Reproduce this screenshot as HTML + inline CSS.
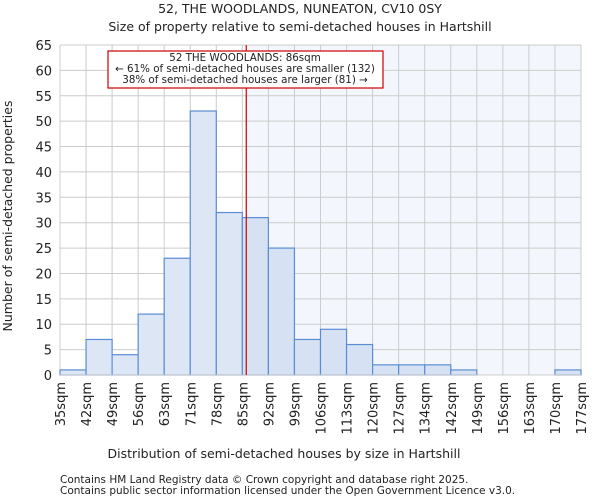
<!DOCTYPE html>
<html><head><meta charset="utf-8"><style>
body{margin:0;background:#fff;font-family:"DejaVu Sans","Liberation Sans",sans-serif;}
svg text{font-family:"DejaVu Sans","Liberation Sans",sans-serif;fill:#222;}
</style></head><body>
<svg id="c" width="600" height="500">
<text x="300" y="13" text-anchor="middle" font-size="12.5">52, THE WOODLANDS, NUNEATON, CV10 0SY</text>
<text x="300" y="31" text-anchor="middle" font-size="12.5">Size of property relative to semi-detached houses in Hartshill</text>
<g id="plot"></g>
<text x="284" y="458" text-anchor="middle" font-size="12.5">Distribution of semi-detached houses by size in Hartshill</text>
<text transform="translate(12,216) rotate(-90)" text-anchor="middle" font-size="12.5">Number of semi-detached properties</text>
<text x="60" y="483" font-size="10.5" fill="#444">Contains HM Land Registry data © Crown copyright and database right 2025.</text>
<text x="60" y="494" font-size="10.5" fill="#444">Contains public sector information licensed under the Open Government Licence v3.0.</text>
</svg>
<script>
const binLabels=["35sqm","42sqm","49sqm","56sqm","63sqm","71sqm","78sqm","85sqm","92sqm","99sqm","106sqm","113sqm","120sqm","127sqm","134sqm","142sqm","149sqm","156sqm","163sqm","170sqm","177sqm"];
const counts=[1,7,4,12,23,52,32,31,25,7,9,6,2,2,2,1,0,0,0,1];
const yTicks=[0,5,10,15,20,25,30,35,40,45,50,55,60,65];
const propertyBinPos=7.15; // 86sqm in bin units
const NS="http://www.w3.org/2000/svg";
const x0=60,x1=581,yB=375,yT=45,yMax=65;
const X=i=>x0+(x1-x0)*i/counts.length;
const Y=v=>yB-(yB-yT)*v/yMax;
const g=document.getElementById('plot');
function mk(t,a){const e=document.createElementNS(NS,t);for(const k in a)e.setAttribute(k,a[k]);g.appendChild(e);return e;}
const px=X(propertyBinPos);
let r=mk('rect',{x:px,y:yT,width:x1-px,height:yB-yT,fill:'#f3f6fd'});


yTicks.forEach(v=>{let l=mk('line',{x1:x0,x2:x1,y1:Y(v),y2:Y(v),stroke:'#ccc'});


let t=mk('text',{x:x0-8,y:Y(v)+5,'text-anchor':'end','font-size':'13'});t.textContent=v;

});
binLabels.forEach((s,i)=>{let l=mk('line',{x1:X(i),x2:X(i),y1:yT,y2:yB,stroke:'#ccc'});


let t=mk('text',{transform:`translate(${X(i)+5},382) rotate(-90)`,'text-anchor':'end','font-size':'13'});t.textContent=s;

});
counts.forEach((c,i)=>{if(c<=0)return;let b=mk('rect',{x:X(i),y:Y(c),width:X(i+1)-X(i),height:yB-Y(c),fill:i>=7?'#d6e1f3':'#dce6f4',stroke:'#5b8dd6','stroke-width':1.2});

});
let ax=mk('line',{x1:x0,x2:x1,y1:yB,y2:yB,stroke:'#ccc'});


let ml=mk('line',{x1:px,x2:px,y1:yT,y2:yB,stroke:'#c00','stroke-width':1.2});


let bx=mk('rect',{x:108,y:51,width:275,height:37,fill:'#fff',stroke:'#c00','stroke-width':1.2});


["52 THE WOODLANDS: 86sqm","← 61% of semi-detached houses are smaller (132)","38% of semi-detached houses are larger (81) →"].forEach((s,i)=>{let t=mk('text',{x:245,y:61+i*11,'text-anchor':'middle','font-size':'10.3'});t.textContent=s;

});
</script>
</body></html>
